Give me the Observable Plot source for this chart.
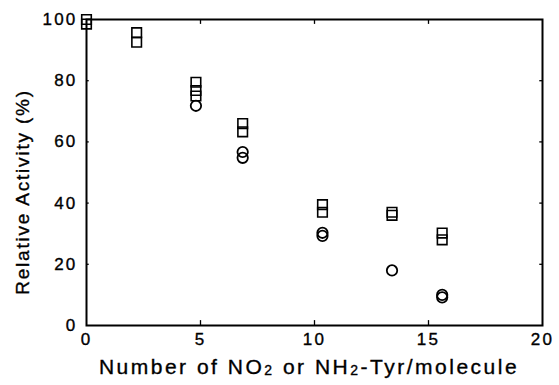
<!DOCTYPE html>
<html>
<head>
<meta charset="utf-8">
<script src="https://cdn.jsdelivr.net/npm/d3@7"></script>
<script src="https://cdn.jsdelivr.net/npm/@observablehq/plot@0.6"></script>
<style>
  html, body { margin: 0; padding: 0; background: #fff; }
  #chart { width: 559px; height: 385px; }
  #chart svg text {
    font-family: "Liberation Sans", Arial, Helvetica, sans-serif;
    letter-spacing: 2.2px;
    stroke: #000;
    stroke-width: 0.35px;
  }
</style>
</head>
<body>
<div id="chart"></div>
<script>
// Relative activity vs. number of modified tyrosines per molecule
// Squares: NO2-Tyr series; circles: NH2-Tyr series
const squareX = [0, 0, 2.2, 2.2, 4.8, 4.8, 4.8, 6.85, 6.85, 10.35, 10.35, 13.4, 13.4, 15.6, 15.6];
const squareY = [100, 98.5, 95.7, 92.6, 79.5, 76.8, 75, 66, 63.3, 39.5, 37, 37, 36, 30.2, 28];
const circleX = [4.8, 6.85, 6.85, 10.35, 10.35, 13.4, 15.6, 15.6];
const circleY = [71.8, 56.7, 54.8, 30.3, 29.3, 18, 10, 9.2];

const xTicks = [0, 5, 10, 15, 20];
const yTicks = [0, 20, 40, 60, 80, 100];

const squares = squareX.map((x, i) => ({x, y: squareY[i]}));
const circles = circleX.map((x, i) => ({x, y: circleY[i]}));

const W = 559, H = 385;
const font = "Liberation Sans, Arial, Helvetica, sans-serif";

const chart = Plot.plot({
  width: W,
  height: H,
  marginLeft: 86,
  marginRight: 17,
  marginTop: 19,
  marginBottom: 60,
  style: {fontFamily: font, color: "#000", background: "#fff"},
  x: {domain: [0, 20], axis: null},
  y: {domain: [0, 100], axis: null},
  marks: [
    // tick labels
    Plot.text(xTicks, {x: d => d, frameAnchor: "bottom", lineAnchor: "top", dy: 7, fontSize: 17, fill: "#000", text: d => String(d)}),
    Plot.text(yTicks, {y: d => d, frameAnchor: "left", textAnchor: "end", dx: -9, fontSize: 17, fill: "#000", text: d => String(d)}),
    // inward tick marks on all four sides
    Plot.ruleX(xTicks.slice(1, -1), {y1: 0, y2: 1.6, stroke: "#000", strokeWidth: 1.3}),
    Plot.ruleX(xTicks.slice(1, -1), {y1: 100, y2: 98.4, stroke: "#000", strokeWidth: 1.3}),
    Plot.ruleY(yTicks.slice(1, -1), {x1: 0, x2: 0.12, stroke: "#000", strokeWidth: 1.3}),
    Plot.ruleY(yTicks.slice(1, -1), {x1: 20, x2: 19.88, stroke: "#000", strokeWidth: 1.3}),
    Plot.frame({stroke: "#000", strokeWidth: 2}),
    Plot.dot(squares, {x: "x", y: "y", symbol: "square", r: 5.4, stroke: "#000", strokeWidth: 1.6, fill: "none"}),
    Plot.dot(circles, {x: "x", y: "y", symbol: "circle", r: 5.2, stroke: "#000", strokeWidth: 1.8, fill: "none"})
  ]
});

document.getElementById("chart").appendChild(chart);

const svg = d3.select(chart);

// Tick label size applied directly to each label
svg.selectAll("text").style("font-size", "17px");

// Axis titles (with subscripts)
const xt = svg.append("text")
  .attr("x", 309)
  .attr("y", 374)
  .attr("text-anchor", "middle")
  .style("font-size", "21px")
  .attr("fill", "#000")
  .style("letter-spacing", "2.5px");
xt.append("tspan").text("Number of NO");
xt.append("tspan").style("font-size", "14px").attr("dy", 1).text("2");
xt.append("tspan").attr("dy", -1).text(" or NH");
xt.append("tspan").style("font-size", "14px").attr("dy", 1).text("2");
xt.append("tspan").attr("dy", -1).text("-Tyr/molecule");

svg.append("text")
  .attr("transform", "translate(29,192) rotate(-90)")
  .attr("text-anchor", "middle")
  .style("font-size", "19px")
  .attr("fill", "#000")
  .style("letter-spacing", "1.8px")
  .text("Relative Activity (%)");
</script>
</body>
</html>
